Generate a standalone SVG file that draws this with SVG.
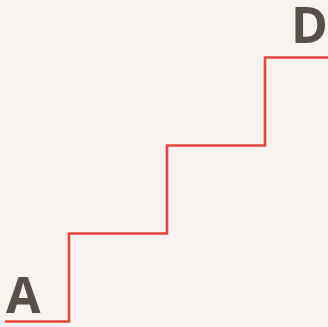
<svg xmlns="http://www.w3.org/2000/svg" width="328" height="327" viewBox="0 0 328 327">
<style>
.lbl{font-family:"Open Sans","Noto Sans","DejaVu Sans",sans-serif;font-weight:700;font-size:50px;fill:#574f4a}
.step{fill:none;stroke:#e8453c;stroke-width:2.6;stroke-linejoin:miter}
</style>
<rect width="328" height="327" fill="#f7f3ee"/>
<g id="connectors">
<polyline class="step" points="5,321.5 69,321.5 69,233.5 167,233.5 167,145.5 265,145.5 265,57.5 328,57.5"/>
</g>
<g id="A"><text class="lbl" x="6" y="313">A</text></g>
<g id="D"><text class="lbl" x="328" y="43.3" text-anchor="end">D</text></g>
</svg>
